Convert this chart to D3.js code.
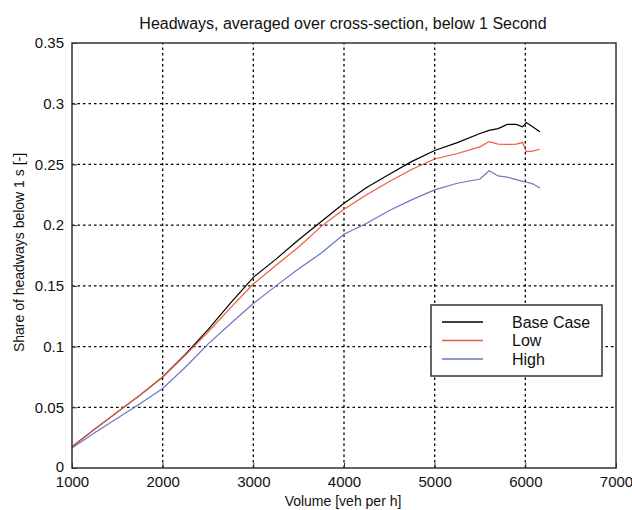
<!DOCTYPE html>
<html>
<head>
<meta charset="utf-8">
<script src="https://cdn.jsdelivr.net/npm/d3@7"></script>
<style>
  body { margin: 0; background: #fff; }
  text { font-family: "Liberation Sans", Arial, sans-serif; fill: #111; }
</style>
</head>
<body>
<svg id="chart" width="632" height="510"></svg>
<script>
// volumes (veh per h) where the curves were read
const volume = [1000, 1250, 1500, 1750, 2000, 2250, 2500, 2750, 3000, 3250, 3500, 3750, 4000,
  4250, 4500, 4750, 5000, 5250, 5500, 5600, 5700, 5800, 5900, 5970, 6010, 6080, 6160];
const baseCase = [0.0175, 0.032, 0.046, 0.060, 0.075, 0.0935, 0.114, 0.136, 0.157, 0.172, 0.188, 0.203, 0.218,
  0.231, 0.242, 0.2525, 0.2615, 0.268, 0.2755, 0.278, 0.2795, 0.283, 0.283, 0.281, 0.2845, 0.281, 0.277];
const low = [0.0175, 0.032, 0.046, 0.060, 0.075, 0.093, 0.112, 0.132, 0.1515, 0.167, 0.182, 0.199, 0.213,
  0.225, 0.236, 0.246, 0.2545, 0.259, 0.2645, 0.2688, 0.2668, 0.2665, 0.2668, 0.268, 0.2605, 0.261, 0.2625];
const high = [0.0165, 0.029, 0.041, 0.053, 0.0655, 0.083, 0.102, 0.119, 0.1355, 0.150, 0.164, 0.177, 0.1925,
  0.2015, 0.212, 0.221, 0.229, 0.2345, 0.238, 0.2448, 0.2405, 0.2395, 0.2375, 0.236, 0.2355, 0.234, 0.2305];

const seriesNames = ["Base Case", "Low", "High"];
const xTicks = [1000, 2000, 3000, 4000, 5000, 6000, 7000];
const yTicks = [0, 0.05, 0.1, 0.15, 0.2, 0.25, 0.3, 0.35];
const yTickLabels = ["0", "0.05", "0.1", "0.15", "0.2", "0.25", "0.3", "0.35"];

const colors = ["#000000", "#ee5a3e", "#6a76c8"];
const margin = { left: 72, right: 16, top: 43, bottom: 42 };
const width = 632, height = 510;

const svg = d3.select("#chart");

const x = d3.scaleLinear().domain([1000, 7000]).range([margin.left, width - margin.right]);
const y = d3.scaleLinear().domain([0, 0.35]).range([height - margin.bottom, margin.top]);

// dotted grid
const grid = svg.append("g").attr("stroke", "#000").attr("stroke-width", 1.3)
  .attr("stroke-dasharray", "2.5,3");
grid.selectAll(".gx").data(xTicks.slice(1, -1)).enter().append("line")
  .attr("x1", d => x(d)).attr("x2", d => x(d))
  .attr("y1", y(0)).attr("y2", y(0.35));
grid.selectAll(".gy").data(yTicks.slice(1, -1)).enter().append("line")
  .attr("x1", x(1000)).attr("x2", x(7000))
  .attr("y1", d => y(d)).attr("y2", d => y(d));

// series
const series = [baseCase, low, high];
const line = d3.line().x((d, i) => x(volume[i])).y(d => y(d));
svg.append("g").selectAll("path").data(series).enter().append("path")
  .attr("d", d => line(d))
  .attr("fill", "none")
  .attr("stroke", (d, i) => colors[i])
  .attr("stroke-width", 1.2);

// axes (ticks inward, like matlab)
const xAxis = svg.append("g").attr("transform", `translate(0,${y(0)})`)
  .call(d3.axisBottom(x).tickValues(xTicks).tickSize(-5).tickPadding(10).tickFormat(d3.format("d")));
const yAxis = svg.append("g").attr("transform", `translate(${x(1000)},0)`)
  .call(d3.axisLeft(y).tickValues(yTicks).tickSize(-5).tickPadding(8)
    .tickFormat((d, i) => yTickLabels[i]));
[xAxis, yAxis].forEach(a => {
  a.select(".domain").remove();
  a.selectAll("line").attr("stroke", "#333");
  a.selectAll("text").attr("font-size", 15).style("font-family", "'Liberation Sans', Arial, sans-serif")
    .attr("fill", "#111");
});
xAxis.selectAll("text").attr("dy", "0.6em");
yAxis.selectAll("text").filter(d => d === 0).attr("dy", "0.2em");

// box
svg.append("rect")
  .attr("x", x(1000)).attr("y", y(0.35))
  .attr("width", x(7000) - x(1000)).attr("height", y(0) - y(0.35))
  .attr("fill", "none").attr("stroke", "#333").attr("stroke-width", 1.5);

// titles
svg.append("text").attr("x", 343).attr("y", 29).attr("text-anchor", "middle")
  .attr("font-size", 16).text("Headways, averaged over cross-section, below 1 Second");
svg.append("text").attr("x", 343).attr("y", 506).attr("text-anchor", "middle")
  .attr("font-size", 14).text("Volume [veh per h]");
svg.append("text").attr("transform", `translate(24,${(y(0) + y(0.35)) / 2 - 3}) rotate(-90)`)
  .attr("text-anchor", "middle").attr("font-size", 14).text("Share of headways below 1 s [-]");

// legend
const legend = svg.append("g").attr("transform", "translate(431,305)");
legend.append("rect").attr("width", 171).attr("height", 71)
  .attr("fill", "#fff").attr("stroke", "#333").attr("stroke-width", 1.5);
const item = legend.selectAll(".item").data(seriesNames).enter().append("g")
  .attr("transform", (d, i) => `translate(0,${17 + i * 18.5})`);
item.append("line").attr("x1", 11).attr("x2", 52).attr("y1", 0).attr("y2", 0)
  .attr("stroke", (d, i) => colors[i]).attr("stroke-width", 1.4);
item.append("text").attr("x", 81).attr("y", 5.5).attr("font-size", 16).text(d => d);
</script>
</body>
</html>
